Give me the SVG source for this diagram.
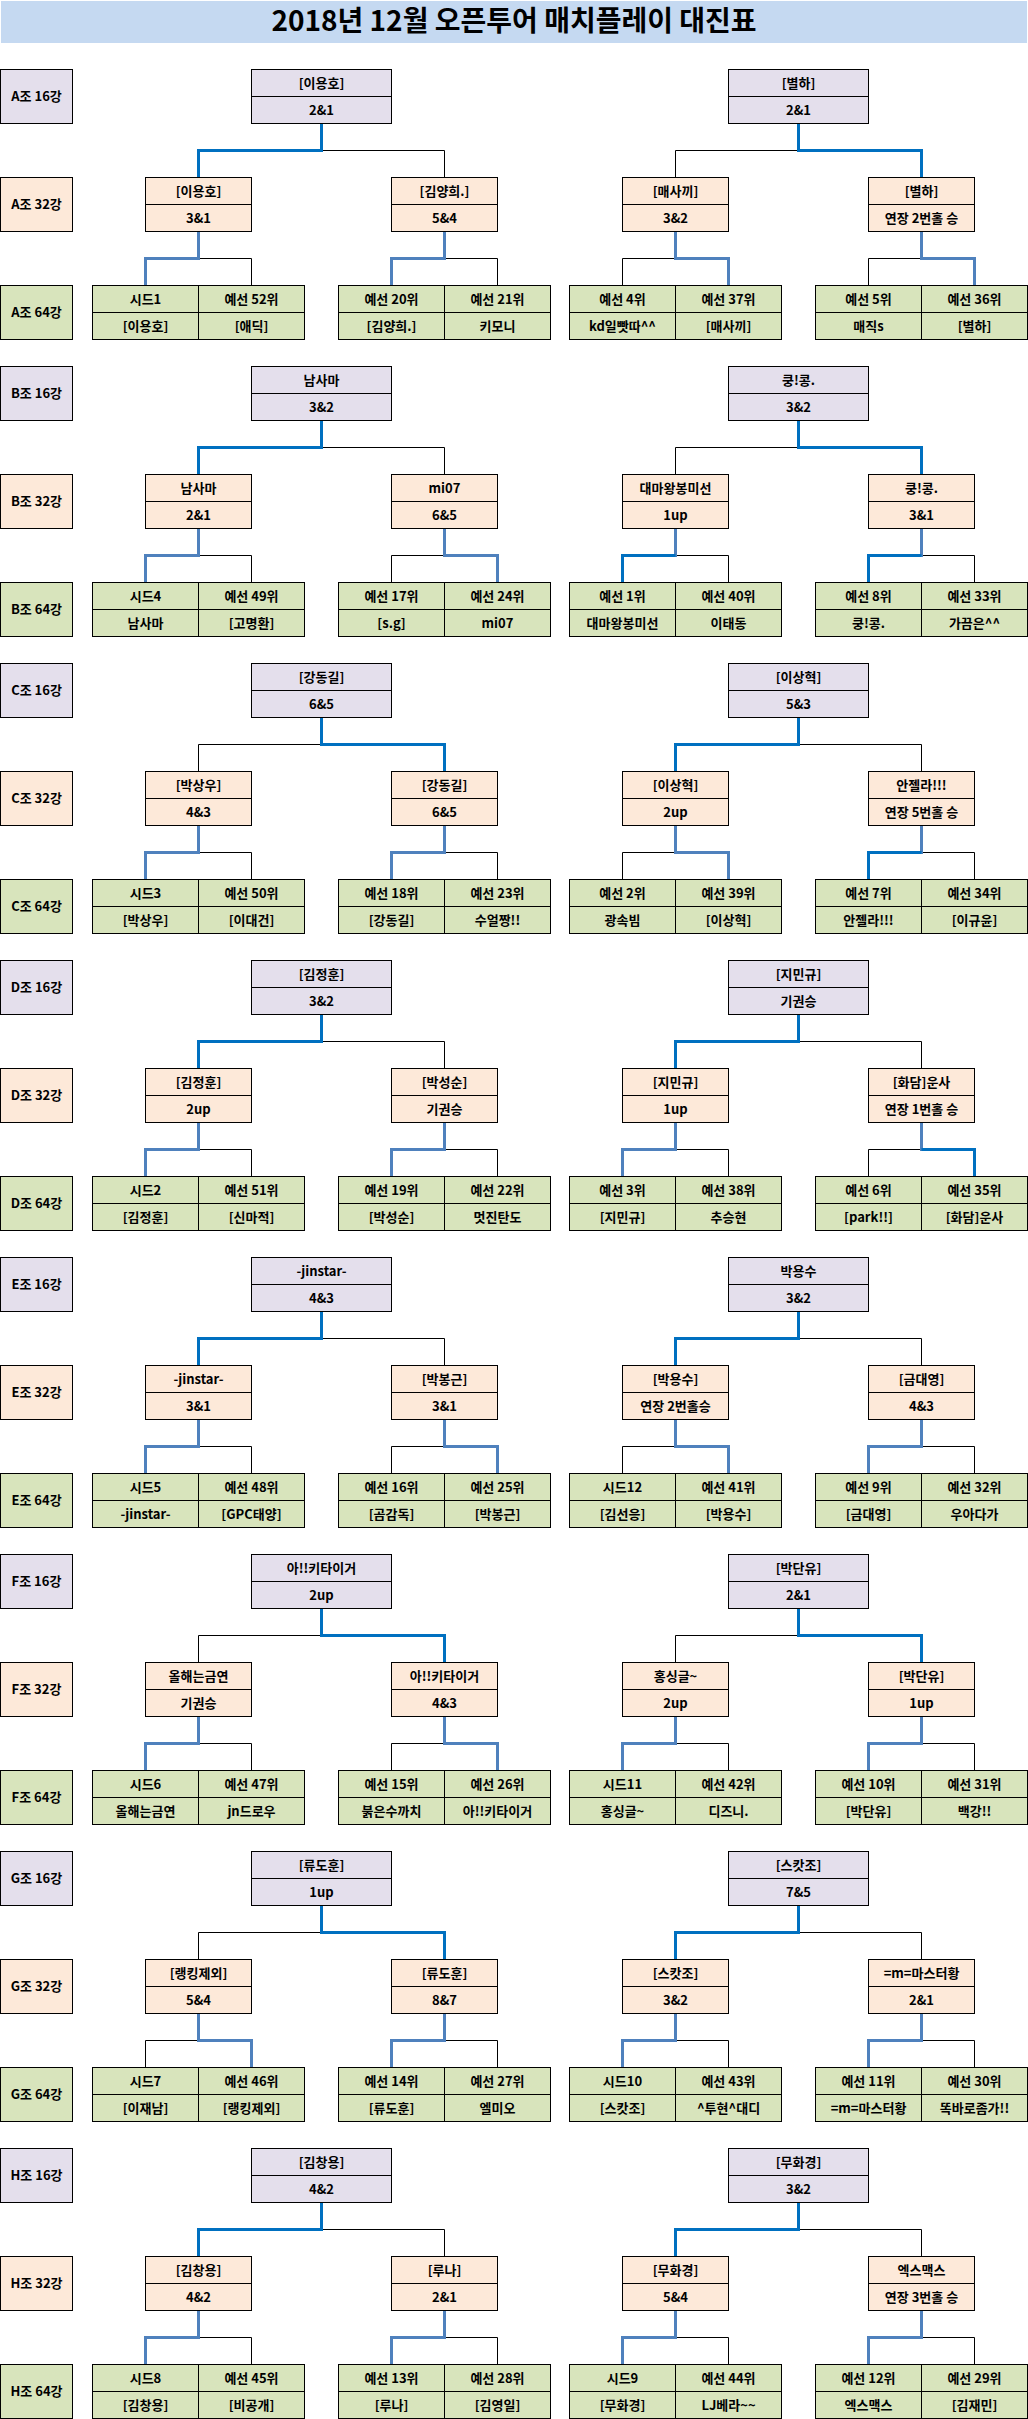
<svg xmlns="http://www.w3.org/2000/svg" width="1028" height="2419" viewBox="0 0 1028 2419">
<style>
.bx{stroke:#000;stroke-width:1}
.c16{fill:#E4DFEC}.c32{fill:#FDE9D9}.c64{fill:#D8E4BC}
.d{stroke:#000;stroke-width:1}
text{font-family:"Noto Sans CJK KR","Noto Sans CJK SC",sans-serif;font-size:13px;font-weight:700;text-anchor:middle;fill:#000}
.title{font-size:28px}
.k{fill:none;stroke:#000;stroke-width:1}
.w1{fill:none;stroke:#0070C0;stroke-width:3}
.w2{fill:none;stroke:#4F81BD;stroke-width:3}
</style>
<rect width="1028" height="2419" fill="#fff"/>
<g id="title"><rect x="1" y="1" width="1026" height="42" fill="#C5D9F1"/><text class="title" x="514" y="31">2018년 12월 오픈투어 매치플레이 대진표</text></g>

<g id="connectors">
<g transform="translate(0,0)">
<path class="k" d="M321.5 150.5H444.5V177.5"/><path class="w1" d="M321.5 123.5V150.5H198.5V177.5"/>
<path class="k" d="M798.5 150.5H675.5V177.5"/><path class="w1" d="M798.5 123.5V150.5H921.5V177.5"/>
<path class="k" d="M198.5 258.5H251.5V285.5"/><path class="w2" d="M198.5 231.5V258.5H145.5V285.5"/>
<path class="k" d="M444.5 258.5H497.5V285.5"/><path class="w2" d="M444.5 231.5V258.5H391.5V285.5"/>
<path class="k" d="M675.5 258.5H622.5V285.5"/><path class="w2" d="M675.5 231.5V258.5H728.5V285.5"/>
<path class="k" d="M921.5 258.5H868.5V285.5"/><path class="w2" d="M921.5 231.5V258.5H974.5V285.5"/>
</g>
<g transform="translate(0,297)">
<path class="k" d="M321.5 150.5H444.5V177.5"/><path class="w1" d="M321.5 123.5V150.5H198.5V177.5"/>
<path class="k" d="M798.5 150.5H675.5V177.5"/><path class="w1" d="M798.5 123.5V150.5H921.5V177.5"/>
<path class="k" d="M198.5 258.5H251.5V285.5"/><path class="w2" d="M198.5 231.5V258.5H145.5V285.5"/>
<path class="k" d="M444.5 258.5H391.5V285.5"/><path class="w2" d="M444.5 231.5V258.5H497.5V285.5"/>
<path class="k" d="M675.5 258.5H728.5V285.5"/><path class="w2" d="M675.5 231.5V260"/><path class="w1" d="M675.5 258.5H622.5V285.5"/>
<path class="k" d="M921.5 258.5H974.5V285.5"/><path class="w2" d="M921.5 231.5V260"/><path class="w1" d="M921.5 258.5H868.5V285.5"/>
</g>
<g transform="translate(0,594)">
<path class="k" d="M321.5 150.5H198.5V177.5"/><path class="w1" d="M321.5 123.5V150.5H444.5V177.5"/>
<path class="k" d="M798.5 150.5H921.5V177.5"/><path class="w1" d="M798.5 123.5V150.5H675.5V177.5"/>
<path class="k" d="M198.5 258.5H251.5V285.5"/><path class="w2" d="M198.5 231.5V258.5H145.5V285.5"/>
<path class="k" d="M444.5 258.5H497.5V285.5"/><path class="w2" d="M444.5 231.5V258.5H391.5V285.5"/>
<path class="k" d="M675.5 258.5H622.5V285.5"/><path class="w2" d="M675.5 231.5V258.5H728.5V285.5"/>
<path class="k" d="M921.5 258.5H974.5V285.5"/><path class="w2" d="M921.5 231.5V260"/><path class="w1" d="M921.5 258.5H868.5V285.5"/>
</g>
<g transform="translate(0,891)">
<path class="k" d="M321.5 150.5H444.5V177.5"/><path class="w1" d="M321.5 123.5V150.5H198.5V177.5"/>
<path class="k" d="M798.5 150.5H921.5V177.5"/><path class="w1" d="M798.5 123.5V150.5H675.5V177.5"/>
<path class="k" d="M198.5 258.5H251.5V285.5"/><path class="w2" d="M198.5 231.5V258.5H145.5V285.5"/>
<path class="k" d="M444.5 258.5H497.5V285.5"/><path class="w2" d="M444.5 231.5V258.5H391.5V285.5"/>
<path class="k" d="M675.5 258.5H728.5V285.5"/><path class="w2" d="M675.5 231.5V258.5H622.5V285.5"/>
<path class="k" d="M921.5 258.5H868.5V285.5"/><path class="w2" d="M921.5 231.5V260"/><path class="w1" d="M921.5 258.5H974.5V285.5"/>
</g>
<g transform="translate(0,1188)">
<path class="k" d="M321.5 150.5H444.5V177.5"/><path class="w1" d="M321.5 123.5V150.5H198.5V177.5"/>
<path class="k" d="M798.5 150.5H921.5V177.5"/><path class="w1" d="M798.5 123.5V150.5H675.5V177.5"/>
<path class="k" d="M198.5 258.5H251.5V285.5"/><path class="w2" d="M198.5 231.5V258.5H145.5V285.5"/>
<path class="k" d="M444.5 258.5H391.5V285.5"/><path class="w2" d="M444.5 231.5V258.5H497.5V285.5"/>
<path class="k" d="M675.5 258.5H622.5V285.5"/><path class="w2" d="M675.5 231.5V258.5H728.5V285.5"/>
<path class="k" d="M921.5 258.5H974.5V285.5"/><path class="w2" d="M921.5 231.5V258.5H868.5V285.5"/>
</g>
<g transform="translate(0,1485)">
<path class="k" d="M321.5 150.5H198.5V177.5"/><path class="w1" d="M321.5 123.5V150.5H444.5V177.5"/>
<path class="k" d="M798.5 150.5H675.5V177.5"/><path class="w1" d="M798.5 123.5V150.5H921.5V177.5"/>
<path class="k" d="M198.5 258.5H251.5V285.5"/><path class="w2" d="M198.5 231.5V258.5H145.5V285.5"/>
<path class="k" d="M444.5 258.5H391.5V285.5"/><path class="w2" d="M444.5 231.5V258.5H497.5V285.5"/>
<path class="k" d="M675.5 258.5H728.5V285.5"/><path class="w2" d="M675.5 231.5V258.5H622.5V285.5"/>
<path class="k" d="M921.5 258.5H974.5V285.5"/><path class="w2" d="M921.5 231.5V258.5H868.5V285.5"/>
</g>
<g transform="translate(0,1782)">
<path class="k" d="M321.5 150.5H198.5V177.5"/><path class="w1" d="M321.5 123.5V150.5H444.5V177.5"/>
<path class="k" d="M798.5 150.5H921.5V177.5"/><path class="w1" d="M798.5 123.5V150.5H675.5V177.5"/>
<path class="k" d="M198.5 258.5H145.5V285.5"/><path class="w2" d="M198.5 231.5V258.5H251.5V285.5"/>
<path class="k" d="M444.5 258.5H497.5V285.5"/><path class="w2" d="M444.5 231.5V258.5H391.5V285.5"/>
<path class="k" d="M675.5 258.5H728.5V285.5"/><path class="w2" d="M675.5 231.5V258.5H622.5V285.5"/>
<path class="k" d="M921.5 258.5H974.5V285.5"/><path class="w2" d="M921.5 231.5V258.5H868.5V285.5"/>
</g>
<g transform="translate(0,2079)">
<path class="k" d="M321.5 150.5H444.5V177.5"/><path class="w1" d="M321.5 123.5V150.5H198.5V177.5"/>
<path class="k" d="M798.5 150.5H921.5V177.5"/><path class="w1" d="M798.5 123.5V150.5H675.5V177.5"/>
<path class="k" d="M198.5 258.5H251.5V285.5"/><path class="w2" d="M198.5 231.5V258.5H145.5V285.5"/>
<path class="k" d="M444.5 258.5H497.5V285.5"/><path class="w2" d="M444.5 231.5V258.5H391.5V285.5"/>
<path class="k" d="M675.5 258.5H728.5V285.5"/><path class="w2" d="M675.5 231.5V258.5H622.5V285.5"/>
<path class="k" d="M921.5 258.5H974.5V285.5"/><path class="w2" d="M921.5 231.5V258.5H868.5V285.5"/>
</g>
</g>

<!-- Group A -->
<g id="groupA">
<g id="A-l16"><rect class="bx c16" x="0.5" y="69.5" width="72" height="54"/><text x="36.5" y="101">A조 16강</text></g>
<g id="A-l32"><rect class="bx c32" x="0.5" y="177.5" width="72" height="54"/><text x="36.5" y="209">A조 32강</text></g>
<g id="A-l64"><rect class="bx c64" x="0.5" y="285.5" width="72" height="54"/><text x="36.5" y="317">A조 64강</text></g>
<g id="A-16a"><rect class="bx c16" x="251.5" y="69.5" width="140" height="54"/><line class="d" x1="251.5" y1="96.5" x2="391.5" y2="96.5"/><text x="321.5" y="87.5">[이용호]</text><text x="321.5" y="114.5">2&amp;1</text></g>
<g id="A-16b"><rect class="bx c16" x="728.5" y="69.5" width="140" height="54"/><line class="d" x1="728.5" y1="96.5" x2="868.5" y2="96.5"/><text x="798.5" y="87.5">[별하]</text><text x="798.5" y="114.5">2&amp;1</text></g>
<g id="A-32a"><rect class="bx c32" x="145.5" y="177.5" width="106" height="54"/><line class="d" x1="145.5" y1="204.5" x2="251.5" y2="204.5"/><text x="198.5" y="195.5">[이용호]</text><text x="198.5" y="222.5">3&amp;1</text></g>
<g id="A-32b"><rect class="bx c32" x="391.5" y="177.5" width="106" height="54"/><line class="d" x1="391.5" y1="204.5" x2="497.5" y2="204.5"/><text x="444.5" y="195.5">[김양희.]</text><text x="444.5" y="222.5">5&amp;4</text></g>
<g id="A-32c"><rect class="bx c32" x="622.5" y="177.5" width="106" height="54"/><line class="d" x1="622.5" y1="204.5" x2="728.5" y2="204.5"/><text x="675.5" y="195.5">[매사끼]</text><text x="675.5" y="222.5">3&amp;2</text></g>
<g id="A-32d"><rect class="bx c32" x="868.5" y="177.5" width="106" height="54"/><line class="d" x1="868.5" y1="204.5" x2="974.5" y2="204.5"/><text x="921.5" y="195.5">[별하]</text><text x="921.5" y="222.5">연장 2번홀 승</text></g>
<g id="A-64a"><rect class="bx c64" x="92.5" y="285.5" width="212" height="54"/><path class="d" d="M92.5 312.5H304.5M198.5 285.5V339.5"/><text x="145.5" y="303.5">시드1</text><text x="251.5" y="303.5">예선 52위</text><text x="145.5" y="330.5">[이용호]</text><text x="251.5" y="330.5">[애딕]</text></g>
<g id="A-64b"><rect class="bx c64" x="338.5" y="285.5" width="212" height="54"/><path class="d" d="M338.5 312.5H550.5M444.5 285.5V339.5"/><text x="391.5" y="303.5">예선 20위</text><text x="497.5" y="303.5">예선 21위</text><text x="391.5" y="330.5">[김양희.]</text><text x="497.5" y="330.5">키모니</text></g>
<g id="A-64c"><rect class="bx c64" x="569.5" y="285.5" width="212" height="54"/><path class="d" d="M569.5 312.5H781.5M675.5 285.5V339.5"/><text x="622.5" y="303.5">예선 4위</text><text x="728.5" y="303.5">예선 37위</text><text x="622.5" y="330.5">kd일빳따^^</text><text x="728.5" y="330.5">[매사끼]</text></g>
<g id="A-64d"><rect class="bx c64" x="815.5" y="285.5" width="212" height="54"/><path class="d" d="M815.5 312.5H1027.5M921.5 285.5V339.5"/><text x="868.5" y="303.5">예선 5위</text><text x="974.5" y="303.5">예선 36위</text><text x="868.5" y="330.5">매직s</text><text x="974.5" y="330.5">[별하]</text></g>
</g>

<!-- Group B -->
<g id="groupB" transform="translate(0,297)">
<g id="B-l16"><rect class="bx c16" x="0.5" y="69.5" width="72" height="54"/><text x="36.5" y="101">B조 16강</text></g>
<g id="B-l32"><rect class="bx c32" x="0.5" y="177.5" width="72" height="54"/><text x="36.5" y="209">B조 32강</text></g>
<g id="B-l64"><rect class="bx c64" x="0.5" y="285.5" width="72" height="54"/><text x="36.5" y="317">B조 64강</text></g>
<g id="B-16a"><rect class="bx c16" x="251.5" y="69.5" width="140" height="54"/><line class="d" x1="251.5" y1="96.5" x2="391.5" y2="96.5"/><text x="321.5" y="87.5">남사마</text><text x="321.5" y="114.5">3&amp;2</text></g>
<g id="B-16b"><rect class="bx c16" x="728.5" y="69.5" width="140" height="54"/><line class="d" x1="728.5" y1="96.5" x2="868.5" y2="96.5"/><text x="798.5" y="87.5">쿵!콩.</text><text x="798.5" y="114.5">3&amp;2</text></g>
<g id="B-32a"><rect class="bx c32" x="145.5" y="177.5" width="106" height="54"/><line class="d" x1="145.5" y1="204.5" x2="251.5" y2="204.5"/><text x="198.5" y="195.5">남사마</text><text x="198.5" y="222.5">2&amp;1</text></g>
<g id="B-32b"><rect class="bx c32" x="391.5" y="177.5" width="106" height="54"/><line class="d" x1="391.5" y1="204.5" x2="497.5" y2="204.5"/><text x="444.5" y="195.5">mi07</text><text x="444.5" y="222.5">6&amp;5</text></g>
<g id="B-32c"><rect class="bx c32" x="622.5" y="177.5" width="106" height="54"/><line class="d" x1="622.5" y1="204.5" x2="728.5" y2="204.5"/><text x="675.5" y="195.5">대마왕봉미선</text><text x="675.5" y="222.5">1up</text></g>
<g id="B-32d"><rect class="bx c32" x="868.5" y="177.5" width="106" height="54"/><line class="d" x1="868.5" y1="204.5" x2="974.5" y2="204.5"/><text x="921.5" y="195.5">쿵!콩.</text><text x="921.5" y="222.5">3&amp;1</text></g>
<g id="B-64a"><rect class="bx c64" x="92.5" y="285.5" width="212" height="54"/><path class="d" d="M92.5 312.5H304.5M198.5 285.5V339.5"/><text x="145.5" y="303.5">시드4</text><text x="251.5" y="303.5">예선 49위</text><text x="145.5" y="330.5">남사마</text><text x="251.5" y="330.5">[고명환]</text></g>
<g id="B-64b"><rect class="bx c64" x="338.5" y="285.5" width="212" height="54"/><path class="d" d="M338.5 312.5H550.5M444.5 285.5V339.5"/><text x="391.5" y="303.5">예선 17위</text><text x="497.5" y="303.5">예선 24위</text><text x="391.5" y="330.5">[s.g]</text><text x="497.5" y="330.5">mi07</text></g>
<g id="B-64c"><rect class="bx c64" x="569.5" y="285.5" width="212" height="54"/><path class="d" d="M569.5 312.5H781.5M675.5 285.5V339.5"/><text x="622.5" y="303.5">예선 1위</text><text x="728.5" y="303.5">예선 40위</text><text x="622.5" y="330.5">대마왕봉미선</text><text x="728.5" y="330.5">이태동</text></g>
<g id="B-64d"><rect class="bx c64" x="815.5" y="285.5" width="212" height="54"/><path class="d" d="M815.5 312.5H1027.5M921.5 285.5V339.5"/><text x="868.5" y="303.5">예선 8위</text><text x="974.5" y="303.5">예선 33위</text><text x="868.5" y="330.5">쿵!콩.</text><text x="974.5" y="330.5">가끔은^^</text></g>
</g>

<!-- Group C -->
<g id="groupC" transform="translate(0,594)">
<g id="C-l16"><rect class="bx c16" x="0.5" y="69.5" width="72" height="54"/><text x="36.5" y="101">C조 16강</text></g>
<g id="C-l32"><rect class="bx c32" x="0.5" y="177.5" width="72" height="54"/><text x="36.5" y="209">C조 32강</text></g>
<g id="C-l64"><rect class="bx c64" x="0.5" y="285.5" width="72" height="54"/><text x="36.5" y="317">C조 64강</text></g>
<g id="C-16a"><rect class="bx c16" x="251.5" y="69.5" width="140" height="54"/><line class="d" x1="251.5" y1="96.5" x2="391.5" y2="96.5"/><text x="321.5" y="87.5">[강동길]</text><text x="321.5" y="114.5">6&amp;5</text></g>
<g id="C-16b"><rect class="bx c16" x="728.5" y="69.5" width="140" height="54"/><line class="d" x1="728.5" y1="96.5" x2="868.5" y2="96.5"/><text x="798.5" y="87.5">[이상혁]</text><text x="798.5" y="114.5">5&amp;3</text></g>
<g id="C-32a"><rect class="bx c32" x="145.5" y="177.5" width="106" height="54"/><line class="d" x1="145.5" y1="204.5" x2="251.5" y2="204.5"/><text x="198.5" y="195.5">[박상우]</text><text x="198.5" y="222.5">4&amp;3</text></g>
<g id="C-32b"><rect class="bx c32" x="391.5" y="177.5" width="106" height="54"/><line class="d" x1="391.5" y1="204.5" x2="497.5" y2="204.5"/><text x="444.5" y="195.5">[강동길]</text><text x="444.5" y="222.5">6&amp;5</text></g>
<g id="C-32c"><rect class="bx c32" x="622.5" y="177.5" width="106" height="54"/><line class="d" x1="622.5" y1="204.5" x2="728.5" y2="204.5"/><text x="675.5" y="195.5">[이상혁]</text><text x="675.5" y="222.5">2up</text></g>
<g id="C-32d"><rect class="bx c32" x="868.5" y="177.5" width="106" height="54"/><line class="d" x1="868.5" y1="204.5" x2="974.5" y2="204.5"/><text x="921.5" y="195.5">안젤라!!!</text><text x="921.5" y="222.5">연장 5번홀 승</text></g>
<g id="C-64a"><rect class="bx c64" x="92.5" y="285.5" width="212" height="54"/><path class="d" d="M92.5 312.5H304.5M198.5 285.5V339.5"/><text x="145.5" y="303.5">시드3</text><text x="251.5" y="303.5">예선 50위</text><text x="145.5" y="330.5">[박상우]</text><text x="251.5" y="330.5">[이대건]</text></g>
<g id="C-64b"><rect class="bx c64" x="338.5" y="285.5" width="212" height="54"/><path class="d" d="M338.5 312.5H550.5M444.5 285.5V339.5"/><text x="391.5" y="303.5">예선 18위</text><text x="497.5" y="303.5">예선 23위</text><text x="391.5" y="330.5">[강동길]</text><text x="497.5" y="330.5">수얼짱!!</text></g>
<g id="C-64c"><rect class="bx c64" x="569.5" y="285.5" width="212" height="54"/><path class="d" d="M569.5 312.5H781.5M675.5 285.5V339.5"/><text x="622.5" y="303.5">예선 2위</text><text x="728.5" y="303.5">예선 39위</text><text x="622.5" y="330.5">광속빔</text><text x="728.5" y="330.5">[이상혁]</text></g>
<g id="C-64d"><rect class="bx c64" x="815.5" y="285.5" width="212" height="54"/><path class="d" d="M815.5 312.5H1027.5M921.5 285.5V339.5"/><text x="868.5" y="303.5">예선 7위</text><text x="974.5" y="303.5">예선 34위</text><text x="868.5" y="330.5">안젤라!!!</text><text x="974.5" y="330.5">[이규윤]</text></g>
</g>

<!-- Group D -->
<g id="groupD" transform="translate(0,891)">
<g id="D-l16"><rect class="bx c16" x="0.5" y="69.5" width="72" height="54"/><text x="36.5" y="101">D조 16강</text></g>
<g id="D-l32"><rect class="bx c32" x="0.5" y="177.5" width="72" height="54"/><text x="36.5" y="209">D조 32강</text></g>
<g id="D-l64"><rect class="bx c64" x="0.5" y="285.5" width="72" height="54"/><text x="36.5" y="317">D조 64강</text></g>
<g id="D-16a"><rect class="bx c16" x="251.5" y="69.5" width="140" height="54"/><line class="d" x1="251.5" y1="96.5" x2="391.5" y2="96.5"/><text x="321.5" y="87.5">[김정훈]</text><text x="321.5" y="114.5">3&amp;2</text></g>
<g id="D-16b"><rect class="bx c16" x="728.5" y="69.5" width="140" height="54"/><line class="d" x1="728.5" y1="96.5" x2="868.5" y2="96.5"/><text x="798.5" y="87.5">[지민규]</text><text x="798.5" y="114.5">기권승</text></g>
<g id="D-32a"><rect class="bx c32" x="145.5" y="177.5" width="106" height="54"/><line class="d" x1="145.5" y1="204.5" x2="251.5" y2="204.5"/><text x="198.5" y="195.5">[김정훈]</text><text x="198.5" y="222.5">2up</text></g>
<g id="D-32b"><rect class="bx c32" x="391.5" y="177.5" width="106" height="54"/><line class="d" x1="391.5" y1="204.5" x2="497.5" y2="204.5"/><text x="444.5" y="195.5">[박성순]</text><text x="444.5" y="222.5">기권승</text></g>
<g id="D-32c"><rect class="bx c32" x="622.5" y="177.5" width="106" height="54"/><line class="d" x1="622.5" y1="204.5" x2="728.5" y2="204.5"/><text x="675.5" y="195.5">[지민규]</text><text x="675.5" y="222.5">1up</text></g>
<g id="D-32d"><rect class="bx c32" x="868.5" y="177.5" width="106" height="54"/><line class="d" x1="868.5" y1="204.5" x2="974.5" y2="204.5"/><text x="921.5" y="195.5">[화담]운사</text><text x="921.5" y="222.5">연장 1번홀 승</text></g>
<g id="D-64a"><rect class="bx c64" x="92.5" y="285.5" width="212" height="54"/><path class="d" d="M92.5 312.5H304.5M198.5 285.5V339.5"/><text x="145.5" y="303.5">시드2</text><text x="251.5" y="303.5">예선 51위</text><text x="145.5" y="330.5">[김정훈]</text><text x="251.5" y="330.5">[신마적]</text></g>
<g id="D-64b"><rect class="bx c64" x="338.5" y="285.5" width="212" height="54"/><path class="d" d="M338.5 312.5H550.5M444.5 285.5V339.5"/><text x="391.5" y="303.5">예선 19위</text><text x="497.5" y="303.5">예선 22위</text><text x="391.5" y="330.5">[박성순]</text><text x="497.5" y="330.5">멋진탄도</text></g>
<g id="D-64c"><rect class="bx c64" x="569.5" y="285.5" width="212" height="54"/><path class="d" d="M569.5 312.5H781.5M675.5 285.5V339.5"/><text x="622.5" y="303.5">예선 3위</text><text x="728.5" y="303.5">예선 38위</text><text x="622.5" y="330.5">[지민규]</text><text x="728.5" y="330.5">추승현</text></g>
<g id="D-64d"><rect class="bx c64" x="815.5" y="285.5" width="212" height="54"/><path class="d" d="M815.5 312.5H1027.5M921.5 285.5V339.5"/><text x="868.5" y="303.5">예선 6위</text><text x="974.5" y="303.5">예선 35위</text><text x="868.5" y="330.5">[park!!]</text><text x="974.5" y="330.5">[화담]운사</text></g>
</g>

<!-- Group E -->
<g id="groupE" transform="translate(0,1188)">
<g id="E-l16"><rect class="bx c16" x="0.5" y="69.5" width="72" height="54"/><text x="36.5" y="101">E조 16강</text></g>
<g id="E-l32"><rect class="bx c32" x="0.5" y="177.5" width="72" height="54"/><text x="36.5" y="209">E조 32강</text></g>
<g id="E-l64"><rect class="bx c64" x="0.5" y="285.5" width="72" height="54"/><text x="36.5" y="317">E조 64강</text></g>
<g id="E-16a"><rect class="bx c16" x="251.5" y="69.5" width="140" height="54"/><line class="d" x1="251.5" y1="96.5" x2="391.5" y2="96.5"/><text x="321.5" y="87.5">-jinstar-</text><text x="321.5" y="114.5">4&amp;3</text></g>
<g id="E-16b"><rect class="bx c16" x="728.5" y="69.5" width="140" height="54"/><line class="d" x1="728.5" y1="96.5" x2="868.5" y2="96.5"/><text x="798.5" y="87.5">박용수</text><text x="798.5" y="114.5">3&amp;2</text></g>
<g id="E-32a"><rect class="bx c32" x="145.5" y="177.5" width="106" height="54"/><line class="d" x1="145.5" y1="204.5" x2="251.5" y2="204.5"/><text x="198.5" y="195.5">-jinstar-</text><text x="198.5" y="222.5">3&amp;1</text></g>
<g id="E-32b"><rect class="bx c32" x="391.5" y="177.5" width="106" height="54"/><line class="d" x1="391.5" y1="204.5" x2="497.5" y2="204.5"/><text x="444.5" y="195.5">[박봉근]</text><text x="444.5" y="222.5">3&amp;1</text></g>
<g id="E-32c"><rect class="bx c32" x="622.5" y="177.5" width="106" height="54"/><line class="d" x1="622.5" y1="204.5" x2="728.5" y2="204.5"/><text x="675.5" y="195.5">[박용수]</text><text x="675.5" y="222.5">연장 2번홀승</text></g>
<g id="E-32d"><rect class="bx c32" x="868.5" y="177.5" width="106" height="54"/><line class="d" x1="868.5" y1="204.5" x2="974.5" y2="204.5"/><text x="921.5" y="195.5">[금대영]</text><text x="921.5" y="222.5">4&amp;3</text></g>
<g id="E-64a"><rect class="bx c64" x="92.5" y="285.5" width="212" height="54"/><path class="d" d="M92.5 312.5H304.5M198.5 285.5V339.5"/><text x="145.5" y="303.5">시드5</text><text x="251.5" y="303.5">예선 48위</text><text x="145.5" y="330.5">-jinstar-</text><text x="251.5" y="330.5">[GPC태양]</text></g>
<g id="E-64b"><rect class="bx c64" x="338.5" y="285.5" width="212" height="54"/><path class="d" d="M338.5 312.5H550.5M444.5 285.5V339.5"/><text x="391.5" y="303.5">예선 16위</text><text x="497.5" y="303.5">예선 25위</text><text x="391.5" y="330.5">[곰감독]</text><text x="497.5" y="330.5">[박봉근]</text></g>
<g id="E-64c"><rect class="bx c64" x="569.5" y="285.5" width="212" height="54"/><path class="d" d="M569.5 312.5H781.5M675.5 285.5V339.5"/><text x="622.5" y="303.5">시드12</text><text x="728.5" y="303.5">예선 41위</text><text x="622.5" y="330.5">[김선응]</text><text x="728.5" y="330.5">[박용수]</text></g>
<g id="E-64d"><rect class="bx c64" x="815.5" y="285.5" width="212" height="54"/><path class="d" d="M815.5 312.5H1027.5M921.5 285.5V339.5"/><text x="868.5" y="303.5">예선 9위</text><text x="974.5" y="303.5">예선 32위</text><text x="868.5" y="330.5">[금대영]</text><text x="974.5" y="330.5">우아다가</text></g>
</g>

<!-- Group F -->
<g id="groupF" transform="translate(0,1485)">
<g id="F-l16"><rect class="bx c16" x="0.5" y="69.5" width="72" height="54"/><text x="36.5" y="101">F조 16강</text></g>
<g id="F-l32"><rect class="bx c32" x="0.5" y="177.5" width="72" height="54"/><text x="36.5" y="209">F조 32강</text></g>
<g id="F-l64"><rect class="bx c64" x="0.5" y="285.5" width="72" height="54"/><text x="36.5" y="317">F조 64강</text></g>
<g id="F-16a"><rect class="bx c16" x="251.5" y="69.5" width="140" height="54"/><line class="d" x1="251.5" y1="96.5" x2="391.5" y2="96.5"/><text x="321.5" y="87.5">아!!키타이거</text><text x="321.5" y="114.5">2up</text></g>
<g id="F-16b"><rect class="bx c16" x="728.5" y="69.5" width="140" height="54"/><line class="d" x1="728.5" y1="96.5" x2="868.5" y2="96.5"/><text x="798.5" y="87.5">[박단유]</text><text x="798.5" y="114.5">2&amp;1</text></g>
<g id="F-32a"><rect class="bx c32" x="145.5" y="177.5" width="106" height="54"/><line class="d" x1="145.5" y1="204.5" x2="251.5" y2="204.5"/><text x="198.5" y="195.5">올해는금연</text><text x="198.5" y="222.5">기권승</text></g>
<g id="F-32b"><rect class="bx c32" x="391.5" y="177.5" width="106" height="54"/><line class="d" x1="391.5" y1="204.5" x2="497.5" y2="204.5"/><text x="444.5" y="195.5">아!!키타이거</text><text x="444.5" y="222.5">4&amp;3</text></g>
<g id="F-32c"><rect class="bx c32" x="622.5" y="177.5" width="106" height="54"/><line class="d" x1="622.5" y1="204.5" x2="728.5" y2="204.5"/><text x="675.5" y="195.5">홍싱글~</text><text x="675.5" y="222.5">2up</text></g>
<g id="F-32d"><rect class="bx c32" x="868.5" y="177.5" width="106" height="54"/><line class="d" x1="868.5" y1="204.5" x2="974.5" y2="204.5"/><text x="921.5" y="195.5">[박단유]</text><text x="921.5" y="222.5">1up</text></g>
<g id="F-64a"><rect class="bx c64" x="92.5" y="285.5" width="212" height="54"/><path class="d" d="M92.5 312.5H304.5M198.5 285.5V339.5"/><text x="145.5" y="303.5">시드6</text><text x="251.5" y="303.5">예선 47위</text><text x="145.5" y="330.5">올해는금연</text><text x="251.5" y="330.5">jn드로우</text></g>
<g id="F-64b"><rect class="bx c64" x="338.5" y="285.5" width="212" height="54"/><path class="d" d="M338.5 312.5H550.5M444.5 285.5V339.5"/><text x="391.5" y="303.5">예선 15위</text><text x="497.5" y="303.5">예선 26위</text><text x="391.5" y="330.5">붉은수까치</text><text x="497.5" y="330.5">아!!키타이거</text></g>
<g id="F-64c"><rect class="bx c64" x="569.5" y="285.5" width="212" height="54"/><path class="d" d="M569.5 312.5H781.5M675.5 285.5V339.5"/><text x="622.5" y="303.5">시드11</text><text x="728.5" y="303.5">예선 42위</text><text x="622.5" y="330.5">홍싱글~</text><text x="728.5" y="330.5">디즈니.</text></g>
<g id="F-64d"><rect class="bx c64" x="815.5" y="285.5" width="212" height="54"/><path class="d" d="M815.5 312.5H1027.5M921.5 285.5V339.5"/><text x="868.5" y="303.5">예선 10위</text><text x="974.5" y="303.5">예선 31위</text><text x="868.5" y="330.5">[박단유]</text><text x="974.5" y="330.5">백강!!</text></g>
</g>

<!-- Group G -->
<g id="groupG" transform="translate(0,1782)">
<g id="G-l16"><rect class="bx c16" x="0.5" y="69.5" width="72" height="54"/><text x="36.5" y="101">G조 16강</text></g>
<g id="G-l32"><rect class="bx c32" x="0.5" y="177.5" width="72" height="54"/><text x="36.5" y="209">G조 32강</text></g>
<g id="G-l64"><rect class="bx c64" x="0.5" y="285.5" width="72" height="54"/><text x="36.5" y="317">G조 64강</text></g>
<g id="G-16a"><rect class="bx c16" x="251.5" y="69.5" width="140" height="54"/><line class="d" x1="251.5" y1="96.5" x2="391.5" y2="96.5"/><text x="321.5" y="87.5">[류도훈]</text><text x="321.5" y="114.5">1up</text></g>
<g id="G-16b"><rect class="bx c16" x="728.5" y="69.5" width="140" height="54"/><line class="d" x1="728.5" y1="96.5" x2="868.5" y2="96.5"/><text x="798.5" y="87.5">[스캇조]</text><text x="798.5" y="114.5">7&amp;5</text></g>
<g id="G-32a"><rect class="bx c32" x="145.5" y="177.5" width="106" height="54"/><line class="d" x1="145.5" y1="204.5" x2="251.5" y2="204.5"/><text x="198.5" y="195.5">[랭킹제외]</text><text x="198.5" y="222.5">5&amp;4</text></g>
<g id="G-32b"><rect class="bx c32" x="391.5" y="177.5" width="106" height="54"/><line class="d" x1="391.5" y1="204.5" x2="497.5" y2="204.5"/><text x="444.5" y="195.5">[류도훈]</text><text x="444.5" y="222.5">8&amp;7</text></g>
<g id="G-32c"><rect class="bx c32" x="622.5" y="177.5" width="106" height="54"/><line class="d" x1="622.5" y1="204.5" x2="728.5" y2="204.5"/><text x="675.5" y="195.5">[스캇조]</text><text x="675.5" y="222.5">3&amp;2</text></g>
<g id="G-32d"><rect class="bx c32" x="868.5" y="177.5" width="106" height="54"/><line class="d" x1="868.5" y1="204.5" x2="974.5" y2="204.5"/><text x="921.5" y="195.5">=m=마스터황</text><text x="921.5" y="222.5">2&amp;1</text></g>
<g id="G-64a"><rect class="bx c64" x="92.5" y="285.5" width="212" height="54"/><path class="d" d="M92.5 312.5H304.5M198.5 285.5V339.5"/><text x="145.5" y="303.5">시드7</text><text x="251.5" y="303.5">예선 46위</text><text x="145.5" y="330.5">[이재남]</text><text x="251.5" y="330.5">[랭킹제외]</text></g>
<g id="G-64b"><rect class="bx c64" x="338.5" y="285.5" width="212" height="54"/><path class="d" d="M338.5 312.5H550.5M444.5 285.5V339.5"/><text x="391.5" y="303.5">예선 14위</text><text x="497.5" y="303.5">예선 27위</text><text x="391.5" y="330.5">[류도훈]</text><text x="497.5" y="330.5">엘미오</text></g>
<g id="G-64c"><rect class="bx c64" x="569.5" y="285.5" width="212" height="54"/><path class="d" d="M569.5 312.5H781.5M675.5 285.5V339.5"/><text x="622.5" y="303.5">시드10</text><text x="728.5" y="303.5">예선 43위</text><text x="622.5" y="330.5">[스캇조]</text><text x="728.5" y="330.5">^투현^대디</text></g>
<g id="G-64d"><rect class="bx c64" x="815.5" y="285.5" width="212" height="54"/><path class="d" d="M815.5 312.5H1027.5M921.5 285.5V339.5"/><text x="868.5" y="303.5">예선 11위</text><text x="974.5" y="303.5">예선 30위</text><text x="868.5" y="330.5">=m=마스터황</text><text x="974.5" y="330.5">똑바로좀가!!</text></g>
</g>

<!-- Group H -->
<g id="groupH" transform="translate(0,2079)">
<g id="H-l16"><rect class="bx c16" x="0.5" y="69.5" width="72" height="54"/><text x="36.5" y="101">H조 16강</text></g>
<g id="H-l32"><rect class="bx c32" x="0.5" y="177.5" width="72" height="54"/><text x="36.5" y="209">H조 32강</text></g>
<g id="H-l64"><rect class="bx c64" x="0.5" y="285.5" width="72" height="54"/><text x="36.5" y="317">H조 64강</text></g>
<g id="H-16a"><rect class="bx c16" x="251.5" y="69.5" width="140" height="54"/><line class="d" x1="251.5" y1="96.5" x2="391.5" y2="96.5"/><text x="321.5" y="87.5">[김창용]</text><text x="321.5" y="114.5">4&amp;2</text></g>
<g id="H-16b"><rect class="bx c16" x="728.5" y="69.5" width="140" height="54"/><line class="d" x1="728.5" y1="96.5" x2="868.5" y2="96.5"/><text x="798.5" y="87.5">[무화경]</text><text x="798.5" y="114.5">3&amp;2</text></g>
<g id="H-32a"><rect class="bx c32" x="145.5" y="177.5" width="106" height="54"/><line class="d" x1="145.5" y1="204.5" x2="251.5" y2="204.5"/><text x="198.5" y="195.5">[김창용]</text><text x="198.5" y="222.5">4&amp;2</text></g>
<g id="H-32b"><rect class="bx c32" x="391.5" y="177.5" width="106" height="54"/><line class="d" x1="391.5" y1="204.5" x2="497.5" y2="204.5"/><text x="444.5" y="195.5">[루나]</text><text x="444.5" y="222.5">2&amp;1</text></g>
<g id="H-32c"><rect class="bx c32" x="622.5" y="177.5" width="106" height="54"/><line class="d" x1="622.5" y1="204.5" x2="728.5" y2="204.5"/><text x="675.5" y="195.5">[무화경]</text><text x="675.5" y="222.5">5&amp;4</text></g>
<g id="H-32d"><rect class="bx c32" x="868.5" y="177.5" width="106" height="54"/><line class="d" x1="868.5" y1="204.5" x2="974.5" y2="204.5"/><text x="921.5" y="195.5">엑스맥스</text><text x="921.5" y="222.5">연장 3번홀 승</text></g>
<g id="H-64a"><rect class="bx c64" x="92.5" y="285.5" width="212" height="54"/><path class="d" d="M92.5 312.5H304.5M198.5 285.5V339.5"/><text x="145.5" y="303.5">시드8</text><text x="251.5" y="303.5">예선 45위</text><text x="145.5" y="330.5">[김창용]</text><text x="251.5" y="330.5">[비공개]</text></g>
<g id="H-64b"><rect class="bx c64" x="338.5" y="285.5" width="212" height="54"/><path class="d" d="M338.5 312.5H550.5M444.5 285.5V339.5"/><text x="391.5" y="303.5">예선 13위</text><text x="497.5" y="303.5">예선 28위</text><text x="391.5" y="330.5">[루나]</text><text x="497.5" y="330.5">[김영일]</text></g>
<g id="H-64c"><rect class="bx c64" x="569.5" y="285.5" width="212" height="54"/><path class="d" d="M569.5 312.5H781.5M675.5 285.5V339.5"/><text x="622.5" y="303.5">시드9</text><text x="728.5" y="303.5">예선 44위</text><text x="622.5" y="330.5">[무화경]</text><text x="728.5" y="330.5">LJ베라~~</text></g>
<g id="H-64d"><rect class="bx c64" x="815.5" y="285.5" width="212" height="54"/><path class="d" d="M815.5 312.5H1027.5M921.5 285.5V339.5"/><text x="868.5" y="303.5">예선 12위</text><text x="974.5" y="303.5">예선 29위</text><text x="868.5" y="330.5">엑스맥스</text><text x="974.5" y="330.5">[김재민]</text></g>
</g>
</svg>
